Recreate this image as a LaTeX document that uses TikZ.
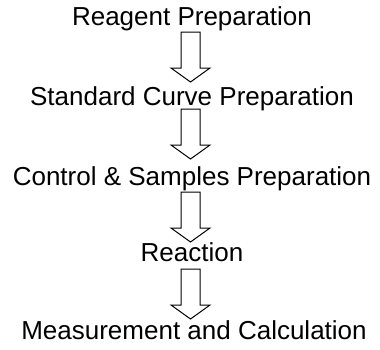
\documentclass[tikz,border=0pt]{standalone}
\usepackage{fontspec}
\setmainfont{Liberation Sans}
\begin{document}
\begin{tikzpicture}[x=1pt,y=-1pt,
  steptext/.style={anchor=base,inner sep=0pt,font=\fontsize{26}{30}\selectfont},
  flowarrow/.style={draw=black,line width=1pt,fill=white,line join=miter}]
\useasboundingbox (0,0) rectangle (380,349);
\node[steptext] (s1) at (192,25) {Reagent Preparation};
\node[steptext] (s2) at (192,105) {Standard Curve Preparation};
\node[steptext] (s3) at (192,185) {Control \& Samples Preparation};
\node[steptext] (s4) at (192,261) {Reaction};
\node[steptext] (s5) at (194,339) {Measurement and Calculation};
\foreach \t in {32,109,192,269}{
  \draw[flowarrow] (181,\t) -- (200,\t) -- (200,\t+36) -- (210,\t+36) -- (190.5,\t+50)
     -- (171,\t+36) -- (181,\t+36) -- cycle;
}
\end{tikzpicture}
\end{document}
